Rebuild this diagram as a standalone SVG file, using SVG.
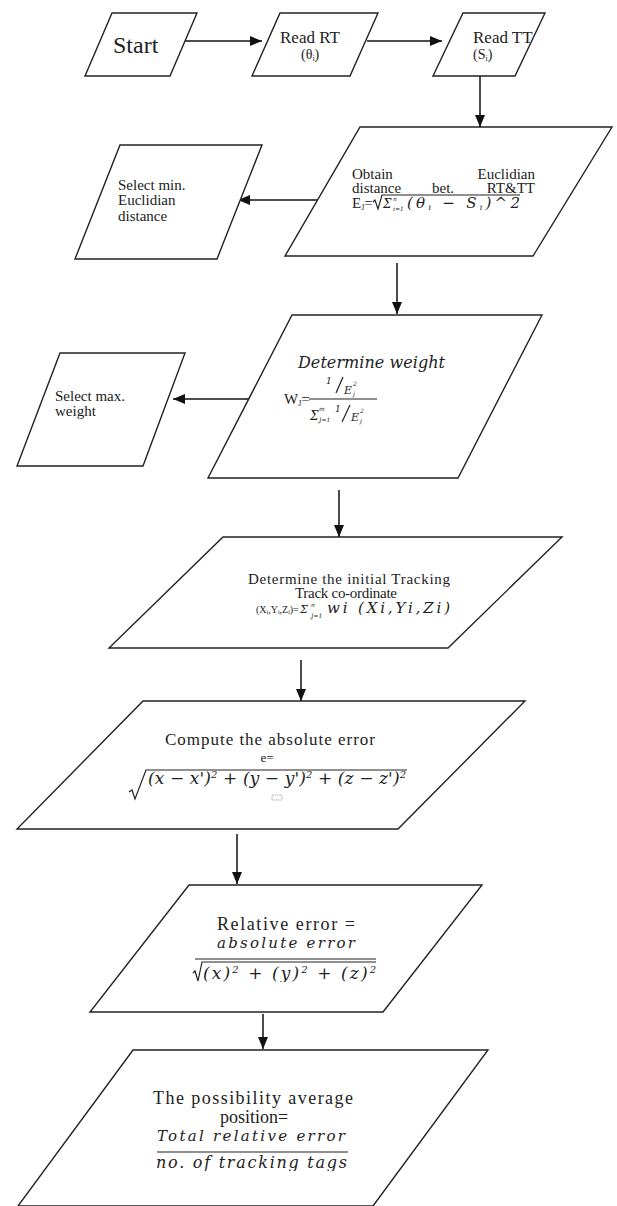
<svg xmlns="http://www.w3.org/2000/svg" width="617" height="1206" viewBox="0 0 617 1206">
<style>
.box{fill:#fff;stroke:#222;stroke-width:1.4}
.edge{stroke:#111;stroke-width:1.5;fill:none}
.t{font-family:"Liberation Serif","Times New Roman",serif;fill:#222}
.m{font-family:"DejaVu Serif","Liberation Serif",serif;font-style:italic;fill:#222}
.ln{stroke:#222;stroke-width:1.2;fill:none}
</style>
<defs>
<marker id="ah" markerUnits="userSpaceOnUse" markerWidth="12" markerHeight="10" refX="12" refY="5" orient="auto">
<path d="M0,0 L12,5 L0,10 z" fill="#111"/>
</marker>
<clipPath id="clipRel"><rect x="180" y="955" width="220" height="27"/></clipPath>
<clipPath id="clipPos"><rect x="140" y="1154" width="220" height="17"/></clipPath>
</defs>
<rect width="617" height="1206" fill="#fff"/>

<g id="edges">
<line class="edge" x1="185" y1="41" x2="262" y2="41" marker-end="url(#ah)"/>
<line class="edge" x1="367" y1="41" x2="442" y2="41" marker-end="url(#ah)"/>
<line class="edge" x1="480" y1="76" x2="480" y2="127" marker-end="url(#ah)"/>
<line class="edge" x1="317" y1="200" x2="238" y2="200" marker-end="url(#ah)"/>
<line class="edge" x1="397" y1="263" x2="397" y2="314" marker-end="url(#ah)"/>
<line class="edge" x1="250" y1="399" x2="173" y2="399" marker-end="url(#ah)"/>
<line class="edge" x1="339" y1="490" x2="339" y2="537" marker-end="url(#ah)"/>
<line class="edge" x1="301" y1="660" x2="301" y2="701" marker-end="url(#ah)"/>
<line class="edge" x1="237" y1="834" x2="237" y2="884" marker-end="url(#ah)"/>
<line class="edge" x1="263" y1="1014" x2="263" y2="1049" marker-end="url(#ah)"/>
</g>

<g id="start">
<polygon class="box" points="112,13 197,13 170,76 85,76"/>
<text class="t" x="113" y="53" font-size="24">Start</text>
</g>

<g id="readRT">
<polygon class="box" points="280,13 378,13 350,76 252,76"/>
<text class="t" x="280" y="43" font-size="17">Read RT</text>
<text class="t" x="301" y="59" font-size="14">(θ<tspan font-size="8" dy="2">i</tspan><tspan dy="-2">)</tspan></text>
</g>

<g id="readTT">
<polygon class="box" points="463,13 545,13 515,76 433,76"/>
<text class="t" x="473" y="43" font-size="17">Read TT</text>
<text class="t" x="473" y="59" font-size="14">(S<tspan font-size="8" dy="2">i</tspan><tspan dy="-2">)</tspan></text>
</g>

<g id="euclid">
<polygon class="box" points="360,127 612,127 533,256 285,256"/>
<text class="t" x="352" y="179" font-size="15">Obtain</text>
<text class="t" x="535" y="179" font-size="15" text-anchor="end">Euclidian</text>
<text class="t" x="352" y="193" font-size="15">distance</text>
<text class="t" x="432" y="193" font-size="15">bet.</text>
<text class="t" x="535" y="193" font-size="15" text-anchor="end">RT&amp;TT</text>
<text class="t" x="352" y="208" font-size="15">E<tspan font-size="8" dy="2">J</tspan><tspan dy="-2">=</tspan></text>
<path class="ln" d="M373,202 L375,200 L378,209 L382,195 L520,195"/>
<text class="m" x="383" y="208" font-size="12">Σ</text>
<text class="m" x="393" y="201" font-size="6">n</text>
<text class="m" x="393" y="211" font-size="6">i=1</text>
<text class="m" x="407" y="208" font-size="15" textLength="113">(θ<tspan font-size="8" dy="2">i</tspan><tspan dy="-2"> − S</tspan><tspan font-size="8" dy="2">i</tspan><tspan dy="-2">)^2</tspan></text>
</g>

<g id="selectMin">
<polygon class="box" points="120,145 262,145 217,259 75,259"/>
<text class="t" x="118" y="190" font-size="15">Select min.</text>
<text class="t" x="118" y="205" font-size="15">Euclidian</text>
<text class="t" x="118" y="221" font-size="15">distance</text>
</g>

<g id="weight">
<polygon class="box" points="292,315 542,315 458,478 208,478"/>
<text class="m" x="298" y="368" font-size="16" textLength="147" lengthAdjust="spacing">Determine weight</text>
<text class="t" x="284" y="404" font-size="15">W<tspan font-size="8" dy="2">J</tspan><tspan dy="-2">=</tspan></text>
<line class="ln" x1="309" y1="399" x2="377" y2="399"/>
<text class="m" x="326" y="384" font-size="9">1</text>
<line class="ln" x1="336" y1="393" x2="343" y2="377"/>
<text class="m" x="344" y="394" font-size="11">E</text>
<text class="m" x="353" y="386" font-size="6">2</text>
<text class="m" x="353" y="396" font-size="6">j</text>
<text class="m" x="310" y="420" font-size="12">Σ</text>
<text class="m" x="319" y="411" font-size="6">m</text>
<text class="m" x="319" y="422" font-size="6">J=1</text>
<text class="m" x="335" y="412" font-size="9">1</text>
<line class="ln" x1="342" y1="422" x2="350" y2="405"/>
<text class="m" x="351" y="421" font-size="11">E</text>
<text class="m" x="360" y="413" font-size="6">2</text>
<text class="m" x="360" y="423" font-size="6">j</text>
</g>

<g id="selectMax">
<polygon class="box" points="60,353 185,353 143,466 17,466"/>
<text class="t" x="55" y="401" font-size="15">Select max.</text>
<text class="t" x="55" y="416" font-size="15">weight</text>
</g>

<g id="tracking">
<polygon class="box" points="223,537 562,537 448,648 109,648"/>
<text class="t" x="248" y="584" font-size="15" textLength="202">Determine the initial Tracking</text>
<text class="t" x="295" y="598" font-size="15" textLength="102">Track co-ordinate</text>
<text class="t" x="256" y="613" font-size="10">(Xᵢ,Yᵢ,Zᵢ)=</text>
<text class="m" x="300" y="613" font-size="11">Σ</text>
<text class="m" x="311" y="607" font-size="6">n</text>
<text class="m" x="311" y="618" font-size="6">J=1</text>
<text class="m" x="327" y="613" font-size="15" textLength="123">wi (Xi,Yi,Zi)</text>
</g>

<g id="absError">
<polygon class="box" points="143,701 525,701 398,829 17,829"/>
<text class="t" x="165" y="745" font-size="17" textLength="210">Compute the absolute error</text>
<text class="t" x="267" y="762" font-size="13" text-anchor="middle">e=</text>
<path class="ln" d="M129,792 L132,790 L135,799 L146,770 L407,770"/>
<text class="m" x="148" y="784" font-size="17" textLength="258">(x − x')<tspan font-size="10" dy="-6">2</tspan><tspan dy="6"> + (y − y')</tspan><tspan font-size="10" dy="-6">2</tspan><tspan dy="6"> + (z − z')</tspan><tspan font-size="10" dy="-6">2</tspan></text>
<rect x="272" y="795" width="10" height="5" fill="none" stroke="#888" stroke-width="0.7" stroke-dasharray="1.5,1"/>
</g>

<g id="relError">
<polygon class="box" points="189,885 482,885 383,1012 90,1012"/>
<text class="t" x="217" y="930" font-size="18" textLength="138">Relative error =</text>
<text class="m" x="217" y="948" font-size="15" textLength="138">absolute error</text>
<line class="ln" x1="195" y1="959" x2="376" y2="959" stroke-width="1.4"/>
<path class="ln" d="M193,973 L195,971 L198,981 L202,962 L376,962"/>
<text class="m" x="203" y="979" font-size="17" textLength="173" clip-path="url(#clipRel)">(x)<tspan font-size="10" dy="-6">2</tspan><tspan dy="6"> + (y)</tspan><tspan font-size="10" dy="-6">2</tspan><tspan dy="6"> + (z)</tspan><tspan font-size="10" dy="-6">2</tspan></text>
</g>

<g id="avgPosition">
<polygon class="box" points="133,1050 488,1050 373,1206 18,1206"/>
<text class="t" x="153" y="1104" font-size="18" textLength="200">The possibility average</text>
<text class="t" x="254" y="1123" font-size="18" text-anchor="middle">position=</text>
<text class="m" x="157" y="1141" font-size="15" textLength="188">Total relative error</text>
<line class="ln" x1="157" y1="1152" x2="348" y2="1152" stroke-width="1.3"/>
<text class="m" x="156" y="1168" font-size="16" textLength="191" clip-path="url(#clipPos)">no. of tracking tags</text>
</g>
</svg>
